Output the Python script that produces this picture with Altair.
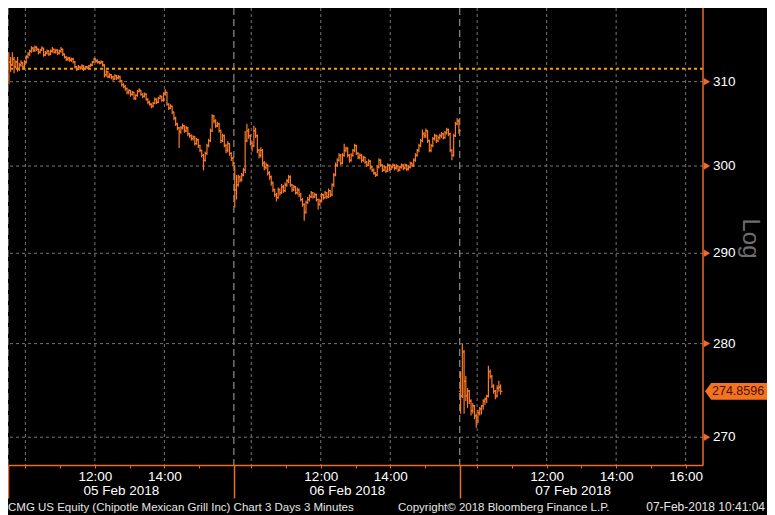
import altair as alt
import pandas as pd

# ---------------- data (3-minute OHLC bars, CMG US Equity) ----------------
day_names = ["05 Feb 2018", "06 Feb 2018", "07 Feb 2018"]

d1_open = [
    311.54, 312.38, 312.02, 312.73, 311.78, 312.38, 311.54, 312.02, 312.26, 311.78,
    312.38, 312.97, 313.33, 313.69, 314.05, 313.81, 314.17, 313.93, 313.57, 313.81,
    314.05, 313.21, 313.45, 313.69, 313.33, 313.69, 313.93, 313.57, 313.81, 313.45,
    313.69, 313.93, 313.33, 312.97, 312.73, 312.85, 312.61, 312.73, 312.38, 311.78,
    311.54, 311.78, 311.66, 311.90, 311.54, 311.78, 311.66, 311.90, 312.02, 312.38,
    312.73, 312.50, 312.38, 312.26, 312.38, 312.02, 310.83, 311.19, 310.59, 310.83,
    310.59, 310.35, 310.71, 310.47, 310.59, 310.12, 309.65, 309.41, 309.17, 308.70,
    308.94, 308.47, 308.70, 307.99, 308.35, 308.82, 308.94, 308.47, 308.23, 308.47,
    307.88, 307.52, 307.29, 307.05, 307.41, 307.88, 307.52, 307.99, 308.23, 307.76,
    308.47, 308.70, 307.29, 306.82, 307.05, 306.35, 305.65, 304.96, 304.49, 304.02,
    304.49, 304.72, 304.14, 304.49, 303.79, 303.56, 303.21, 303.44, 302.63, 303.09,
    302.40, 301.83, 301.25, 300.67, 301.48, 302.40, 302.98, 304.14, 305.89, 305.30,
    304.72, 304.96, 304.14, 302.98, 303.56, 302.40, 301.83, 302.63, 301.48, 300.91,
]
d1_high = [
    313.57, 312.97, 313.57, 312.97, 312.6, 313.0, 312.3, 312.6, 312.4, 312.6,
    313.2, 313.6, 313.9, 314.3, 314.2, 314.4, 314.3, 314.0, 314.0, 314.3,
    314.1, 313.7, 313.9, 313.8, 313.9, 314.2, 314.0, 314.0, 313.9, 313.9,
    314.2, 314.0, 313.4, 313.1, 313.0, 313.0, 312.9, 312.9, 312.5, 311.9,
    312.0, 311.9, 312.1, 312.0, 311.9, 311.9, 312.0, 312.2, 312.5, 312.9,
    312.8, 312.7, 312.5, 312.6, 312.5, 312.1, 311.4, 311.3, 311.0, 310.9,
    310.7, 310.9, 310.8, 310.8, 310.7, 310.2, 309.8, 309.6, 309.3, 309.1,
    309.0, 308.9, 308.8, 308.5, 309.0, 309.2, 309.0, 308.6, 308.7, 308.6,
    308.0, 307.7, 307.4, 307.6, 308.1, 308.0, 308.2, 308.4, 308.3, 308.7,
    309.1, 308.8, 307.4, 307.3, 307.1, 306.4, 305.8, 305.1, 304.6, 304.7,
    305.0, 304.8, 304.7, 304.6, 303.9, 303.7, 303.6, 303.5, 303.3, 303.2,
    302.5, 301.9, 301.4, 301.7, 302.6, 303.2, 304.4, 306.1, 306.0, 305.5,
    305.2, 305.1, 304.3, 303.8, 303.7, 302.6, 302.9, 302.7, 301.6, 301.1,
]
d1_low = [
    309.65, 311.19, 311.90, 311.0, 311.6, 311.2, 311.3, 311.8, 311.5, 311.6,
    312.2, 312.8, 313.1, 313.5, 313.6, 313.6, 313.7, 313.3, 313.4, 313.7,
    313.0, 313.1, 313.3, 313.1, 313.2, 313.5, 313.4, 313.4, 313.2, 313.3,
    313.5, 313.1, 312.8, 312.5, 312.5, 312.4, 312.4, 312.2, 311.6, 311.3,
    311.4, 311.4, 311.5, 311.3, 311.4, 311.5, 311.5, 311.8, 311.9, 312.3,
    312.3, 312.2, 312.1, 312.1, 311.8, 310.5, 310.6, 310.4, 310.4, 310.3,
    310.1, 310.2, 310.2, 310.3, 309.9, 309.4, 309.2, 308.9, 308.5, 308.5,
    308.2, 308.3, 307.8, 307.8, 308.2, 308.7, 308.3, 308.0, 308.1, 307.7,
    307.3, 307.1, 306.8, 306.9, 307.3, 307.3, 307.4, 307.9, 307.6, 307.6,
    308.3, 307.1, 306.6, 306.7, 306.1, 305.4, 304.7, 304.2, 302.1, 303.8,
    304.3, 303.9, 304.0, 303.5, 303.3, 303.0, 303.0, 302.4, 302.5, 302.1,
    301.6, 301.0, 299.5, 300.5, 301.3, 302.2, 302.8, 304.0, 305.0, 304.5,
    304.6, 303.9, 302.7, 302.8, 302.2, 301.5, 301.6, 301.2, 300.6, 300.0,
]
d1_close = [
    312.38, 312.02, 312.73, 311.78, 312.38, 311.54, 312.02, 312.26, 311.78, 312.38,
    312.97, 313.33, 313.69, 314.05, 313.81, 314.17, 313.93, 313.57, 313.81, 314.05,
    313.21, 313.45, 313.69, 313.33, 313.69, 313.93, 313.57, 313.81, 313.45, 313.69,
    313.93, 313.33, 312.97, 312.73, 312.85, 312.61, 312.73, 312.38, 311.78, 311.54,
    311.78, 311.66, 311.90, 311.54, 311.78, 311.66, 311.90, 312.02, 312.38, 312.73,
    312.50, 312.38, 312.26, 312.38, 312.02, 310.83, 311.19, 310.59, 310.83, 310.59,
    310.35, 310.71, 310.47, 310.59, 310.12, 309.65, 309.41, 309.17, 308.70, 308.94,
    308.47, 308.70, 307.99, 308.35, 308.82, 308.94, 308.47, 308.23, 308.47, 307.88,
    307.52, 307.29, 307.05, 307.41, 307.88, 307.52, 307.99, 308.23, 307.76, 308.47,
    308.70, 307.29, 306.82, 307.05, 306.35, 305.65, 304.96, 304.49, 304.02, 304.49,
    304.72, 304.14, 304.49, 303.79, 303.56, 303.21, 303.44, 302.63, 303.09, 302.40,
    301.83, 301.25, 300.67, 301.48, 302.40, 302.98, 304.14, 305.89, 305.30, 304.72,
    304.96, 304.14, 302.98, 303.56, 302.40, 301.83, 302.63, 301.48, 300.91, 300.33,
]

d2_open = [
    299.53, 297.25, 297.82, 298.73, 298.39, 298.96, 299.53, 302.98, 304.14, 303.56,
    302.63, 302.40, 304.14, 303.56, 301.83, 301.25, 301.83, 300.33, 299.87, 300.10,
    299.19, 298.73, 298.05, 297.25, 296.68, 296.34, 297.25, 296.91, 297.59, 297.14,
    297.82, 298.28, 298.73, 297.82, 297.25, 297.59, 296.91, 297.25, 296.68, 296.12,
    295.55, 294.65, 295.78, 296.12, 296.45, 296.91, 296.45, 296.68, 296.12, 295.55,
    296.00, 296.68, 296.34, 296.91, 296.45, 297.14, 296.68, 297.82, 298.96, 300.10,
    300.67, 301.25, 300.33, 301.25, 301.83, 302.06, 301.25, 300.67, 301.25, 301.83,
    302.40, 301.48, 301.02, 301.25, 300.67, 301.02, 300.44, 300.10, 300.56, 299.87,
    299.53, 299.19, 298.96, 299.87, 300.67, 300.10, 299.53, 299.87, 299.42, 300.10,
    299.64, 299.87, 300.10, 299.76, 299.99, 299.53, 299.87, 300.10, 299.76, 300.10,
    299.64, 299.87, 300.33, 300.10, 300.67, 301.25, 301.83, 302.40, 302.98, 303.79,
    303.56, 304.14, 302.98, 301.83, 302.40, 303.21, 303.56, 302.98, 303.33, 303.56,
    303.79, 303.33, 303.91, 304.26, 303.79, 301.83, 301.25, 303.56, 304.96, 305.30,
]
d2_high = [
    300.10, 298.96, 299.0, 298.9, 299.2, 299.8, 304.1, 304.96, 304.4, 303.7,
    302.9, 304.72, 304.5, 303.7, 302.0, 302.2, 302.0, 300.6, 300.4, 300.2,
    299.4, 298.9, 298.2, 297.4, 296.9, 297.5, 297.4, 297.9, 297.8, 298.1,
    298.5, 298.96, 298.9, 297.9, 297.8, 297.7, 297.5, 297.4, 296.9, 296.3,
    295.7, 296.0, 296.4, 296.7, 297.1, 297.0, 296.9, 296.8, 296.2, 296.2,
    296.9, 296.8, 297.1, 297.0, 297.4, 297.2, 298.0, 299.2, 300.4, 300.9,
    301.5, 301.4, 301.5, 302.6, 302.3, 302.2, 301.4, 301.5, 302.0, 302.6,
    302.5, 301.6, 301.5, 301.4, 301.2, 301.1, 300.6, 300.8, 300.7, 300.0,
    299.7, 299.3, 300.1, 300.9, 300.8, 300.2, 300.1, 300.0, 300.3, 300.2,
    300.1, 300.3, 300.2, 300.2, 300.1, 300.0, 300.3, 300.2, 300.3, 300.2,
    300.1, 300.5, 300.4, 300.9, 301.5, 302.0, 302.6, 303.2, 304.3, 304.0,
    304.4, 304.2, 303.1, 302.6, 303.4, 303.8, 303.7, 303.6, 303.8, 304.0,
    303.9, 304.1, 304.5, 304.4, 303.9, 302.0, 303.8, 305.2, 305.65, 305.5,
]
d2_low = [
    295.21, 296.12, 297.6, 298.1, 298.2, 298.8, 299.2, 302.8, 303.2, 302.4,
    301.7, 302.2, 303.3, 301.5, 300.9, 301.0, 300.0, 299.5, 299.6, 298.9,
    298.4, 297.7, 297.0, 296.4, 295.9, 296.2, 296.6, 296.8, 296.9, 297.0,
    297.6, 298.0, 297.6, 297.0, 297.1, 296.7, 296.7, 296.4, 295.9, 295.3,
    293.7, 294.5, 295.6, 295.9, 296.3, 296.2, 296.3, 295.9, 294.99, 295.4,
    295.8, 296.1, 296.2, 296.2, 296.3, 296.4, 296.5, 297.6, 298.8, 299.9,
    300.5, 300.1, 300.2, 301.1, 301.6, 301.0, 300.4, 300.5, 301.1, 301.6,
    301.3, 300.8, 300.8, 300.4, 300.5, 300.2, 299.9, 300.0, 299.6, 299.3,
    299.0, 298.73, 298.8, 299.7, 299.9, 299.3, 299.4, 299.2, 299.3, 299.4,
    299.5, 299.7, 299.5, 299.6, 299.3, 299.4, 299.7, 299.5, 299.6, 299.4,
    299.5, 299.7, 299.9, 299.9, 300.5, 301.1, 301.6, 302.2, 302.8, 303.3,
    303.3, 302.7, 301.6, 301.6, 302.2, 303.0, 302.7, 302.8, 303.1, 303.3,
    303.1, 303.2, 303.7, 303.5, 301.6, 300.67, 301.1, 303.4, 304.8, 303.8,
]
d2_close = [
    297.25, 297.82, 298.73, 298.39, 298.96, 299.53, 302.98, 304.14, 303.56, 302.63,
    302.40, 304.14, 303.56, 301.83, 301.25, 301.83, 300.33, 299.87, 300.10, 299.19,
    298.73, 298.05, 297.25, 296.68, 296.34, 297.25, 296.91, 297.59, 297.14, 297.82,
    298.28, 298.73, 297.82, 297.25, 297.59, 296.91, 297.25, 296.68, 296.12, 295.55,
    294.65, 295.78, 296.12, 296.45, 296.91, 296.45, 296.68, 296.12, 295.55, 296.00,
    296.68, 296.34, 296.91, 296.45, 297.14, 296.68, 297.82, 298.96, 300.10, 300.67,
    301.25, 300.33, 301.25, 301.83, 302.06, 301.25, 300.67, 301.25, 301.83, 302.40,
    301.48, 301.02, 301.25, 300.67, 301.02, 300.44, 300.10, 300.56, 299.87, 299.53,
    299.19, 298.96, 299.87, 300.67, 300.10, 299.53, 299.87, 299.42, 300.10, 299.64,
    299.87, 300.10, 299.76, 299.99, 299.53, 299.87, 300.10, 299.76, 300.10, 299.64,
    299.87, 300.33, 300.10, 300.67, 301.25, 301.83, 302.40, 302.98, 303.79, 303.56,
    304.14, 302.98, 301.83, 302.40, 303.21, 303.56, 302.98, 303.33, 303.56, 303.79,
    303.33, 303.91, 304.26, 303.79, 301.83, 301.25, 303.56, 304.96, 305.30, 304.14,
]

d3_open = [274.87, 274.35, 279.10, 275.92, 274.35, 274.87, 273.82, 272.78, 273.30, 272.26,
           271.74, 272.57, 272.99, 273.30, 273.82, 274.03, 274.35, 276.97, 276.45, 275.40,
           274.87, 274.35, 275.20, 275.30]
d3_high = [276.97, 279.96, 279.30, 276.50, 275.20, 275.00, 274.00, 273.60, 273.40, 272.50,
           272.90, 273.20, 273.40, 274.00, 274.20, 274.50, 277.60, 277.20, 276.60, 275.60,
           275.00, 275.50, 276.00, 275.60]
d3_low = [272.47, 274.14, 272.47, 273.80, 273.10, 273.50, 272.30, 272.50, 271.90, 271.00,
          271.50, 272.30, 272.40, 272.90, 273.40, 273.60, 274.20, 276.20, 275.20, 274.60,
          274.00, 274.20, 274.80, 274.50]
d3_close = [274.35, 279.10, 275.92, 274.35, 274.87, 273.82, 272.78, 273.30, 272.26, 271.74,
            272.57, 272.99, 273.30, 273.82, 274.03, 274.35, 276.97, 276.45, 275.40, 274.87,
            274.35, 275.20, 275.30, 274.8596]

prev_close = 311.55
y_ticks = [270, 280, 290, 300, 310]
y_tick_labels = ["270", "280", "290", "300", "310"]
scale_note = "Log"

# trading-session position in hours (each day 09:30-16:00 = 6.5 h)
hour_ticks = [0.5, 1.5, 2.5, 3.5, 4.5, 5.5, 7, 8, 9, 10, 11, 12,
              13.5, 14.5, 15.5, 16.5, 17.5, 18.5, 19.5]
hour_labels = ["", "", "12:00", "", "14:00", "", "", "", "12:00", "", "14:00", "",
               "", "", "12:00", "", "14:00", "", "16:00"]
grid_hours = [0.5, 2.5, 4.5, 7, 9, 11, 13.5, 15.5, 17.5, 19.5]
day_starts = [0, 6.5, 13]
day_centers = [3.25, 9.75, 16.25]

footer_left = "CMG US Equity (Chipotle Mexican Grill Inc) Chart 3 Days 3 Minutes"
footer_mid = "Copyright\u00a9 2018 Bloomberg Finance L.P."
footer_right = "07-Feb-2018 10:41:04"

# ---------------- build table ----------------
SESSION = 6.5
BAR = 0.05
rows = []
for d, (o, h, l, c) in enumerate([(d1_open, d1_high, d1_low, d1_close),
                                  (d2_open, d2_high, d2_low, d2_close),
                                  (d3_open, d3_high, d3_low, d3_close)]):
    n = min(len(o), len(h), len(l), len(c))
    for i in range(n):
        rows.append({"pos": d * SESSION + (i + 0.5) * BAR,
                     "open": o[i], "high": h[i], "low": l[i], "close": c[i]})
bars = pd.DataFrame(rows)

X_MAX = 20.0
last_price = d3_close[-1]

# ---------------- styles ----------------
ORANGE = "#fb7a28"
AXIS_OR = "#ee6a2a"
GRID = "#767676"
FONT = "Liberation Sans"
W, H = 695, 457

xs = alt.Scale(domain=[0, X_MAX], nice=False, zero=False)
ys = alt.Scale(type="log", domain=[267.1, 319.0], nice=False)


def chain(values, labels):
    parts = [f"datum.value == {v} ? '{t}' : " for v, t in zip(values, labels) if t]
    return "".join(parts) + "''"


axis_hours = alt.Axis(values=hour_ticks, labelExpr=chain(hour_ticks, hour_labels),
                      orient="bottom", domainColor=AXIS_OR, domainWidth=1.5,
                      tickColor=AXIS_OR, tickSize=3, tickWidth=1,
                      labelColor="white", labelFont=FONT, labelFontSize=13.5,
                      labelPadding=1, grid=False, title=None,
                      labelOverlap=False, labelFlush=False, labelBound=False)
axis_days = alt.Axis(values=day_starts, orient="bottom", domain=False, labels=False,
                     tickColor=AXIS_OR, tickSize=33, tickWidth=1.5, grid=False, title=None)
axis_dates = alt.Axis(values=day_centers, labelExpr=chain(day_centers, day_names),
                      orient="bottom", domain=False, ticks=False, tickSize=0,
                      labelPadding=18, labelColor="white", labelFont=FONT,
                      labelFontSize=13.5, grid=False, title=None,
                      labelOverlap=False, labelFlush=False, labelBound=False)

NOY = dict(scale=ys, axis=None)
NOX = dict(scale=xs, axis=None)

vgrid = alt.Chart(pd.DataFrame({"pos": grid_hours})).mark_rule(
    color=GRID, strokeDash=[3, 3], strokeWidth=1
).encode(x=alt.X("pos:Q", scale=xs, axis=axis_dates))

dayline = alt.Chart(pd.DataFrame({"pos": day_starts})).mark_rule(
    color="#a8a8a8", strokeDash=[7, 4], strokeWidth=1
).encode(x=alt.X("pos:Q", scale=xs, axis=axis_days))

# right price axis: grid, frame line, triangle ticks, labels
tick_df = pd.DataFrame({"price": y_ticks, "label": y_tick_labels,
                        "edge": [X_MAX] * len(y_ticks)})
hgrid = alt.Chart(tick_df).mark_rule(
    color=GRID, strokeDash=[3, 3], strokeWidth=1
).encode(y=alt.Y("price:Q", **NOY))
frame = alt.Chart(pd.DataFrame({"edge": [X_MAX]})).mark_rule(
    color=AXIS_OR, strokeWidth=1.5
).encode(x=alt.X("edge:Q", **NOX))
tri = alt.Chart(tick_df).mark_point(
    shape="triangle-right", filled=True, size=55, color=AXIS_OR, opacity=1, xOffset=4
).encode(x=alt.X("edge:Q", **NOX), y=alt.Y("price:Q", **NOY))
ylab = alt.Chart(tick_df).mark_text(
    align="left", baseline="middle", xOffset=10, color="white",
    font=FONT, fontSize=13.5
).encode(x=alt.X("edge:Q", **NOX), y=alt.Y("price:Q", **NOY), text="label:N")
logtxt = alt.Chart(pd.DataFrame({"t": [scale_note]})).mark_text(
    angle=90, align="center", baseline="middle", color="#6e6e6e",
    font=FONT, fontSize=24
).encode(text="t:N", x=alt.value(W + 47), y=alt.value(H / 2 + 2))

prev = alt.Chart(pd.DataFrame({"price": [prev_close]})).mark_rule(
    color="#ff9a00", strokeDash=[3, 3], strokeWidth=2
).encode(y=alt.Y("price:Q", **NOY))

base = alt.Chart(bars)
hl = base.mark_rule(color=ORANGE, strokeWidth=1.2).encode(
    x=alt.X("pos:Q", scale=xs, axis=axis_hours),
    y=alt.Y("low:Q", **NOY),
    y2="high:Q",
)
op = base.mark_tick(color=ORANGE, orient="horizontal", size=1.8, thickness=1.2,
                    xOffset=-0.9, opacity=1).encode(
    x=alt.X("pos:Q", **NOX), y=alt.Y("open:Q", **NOY))
cl = base.mark_tick(color=ORANGE, orient="horizontal", size=1.8, thickness=1.2,
                    xOffset=0.9, opacity=1).encode(
    x=alt.X("pos:Q", **NOX), y=alt.Y("close:Q", **NOY))

lab_df = pd.DataFrame({"price": [last_price], "edge": [X_MAX],
                       "label": [f"{last_price:.4f}"]})
flag = alt.Chart(lab_df).mark_point(
    shape="M-1,0L-0.8,-0.27L1,-0.27L1,0.27L-0.8,0.27Z", filled=True,
    size=62 * 62, color="#f47320", opacity=1, xOffset=33
).encode(x=alt.X("edge:Q", **NOX), y=alt.Y("price:Q", **NOY))
flag_txt = alt.Chart(lab_df).mark_text(
    align="left", baseline="middle", xOffset=9, color="#4a1200",
    font=FONT, fontSize=12.5
).encode(x=alt.X("edge:Q", **NOX), y=alt.Y("price:Q", **NOY), text="label:N")

f1 = alt.Chart(pd.DataFrame({"t": [footer_left]})).mark_text(
    align="left", baseline="alphabetic", color="#e6e6e6", font=FONT, fontSize=11.5
).encode(text="t:N", x=alt.value(0), y=alt.value(H + 46))
f2 = alt.Chart(pd.DataFrame({"t": [footer_mid]})).mark_text(
    align="left", baseline="alphabetic", color="#e6e6e6", font=FONT, fontSize=11.5
).encode(text="t:N", x=alt.value(390), y=alt.value(H + 46))
f3 = alt.Chart(pd.DataFrame({"t": [footer_right]})).mark_text(
    align="right", baseline="alphabetic", color="#e6e6e6", font=FONT, fontSize=12
).encode(text="t:N", x=alt.value(757), y=alt.value(H + 46))

chart = alt.layer(
    vgrid, dayline, hgrid, prev, hl, op, cl, frame, tri, ylab, logtxt,
    flag, flag_txt, f1, f2, f3
).resolve_axis(x="independent").properties(
    width=W, height=H,
    autosize=alt.AutoSizeParams(type="none"),
    padding={"left": 0, "top": 0, "right": 64, "bottom": 50},
    background="black",
).configure_view(stroke=None)

chart.save("out.html", embed_options={"renderer": "svg", "actions": False})
